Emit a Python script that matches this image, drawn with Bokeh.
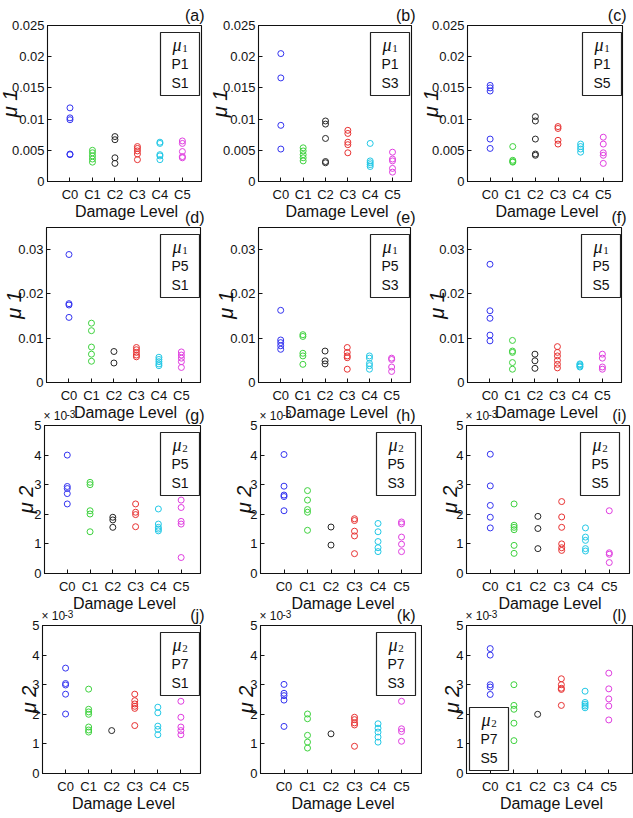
import math

from bokeh.core.properties import value
from bokeh.embed import file_html
from bokeh.layouts import column, row
from bokeh.models import BoxAnnotation, ColumnDataSource, FixedTicker, Label
from bokeh.plotting import figure
from bokeh.resources import INLINE

# ---------------------------------------------------------------------------
# Data: damage index values per damage level (C0..C5) for each path/sensor.
# mu1 values are absolute; mu2 values are given in units of 1e-3.
# ---------------------------------------------------------------------------
damage_levels = ["C0", "C1", "C2", "C3", "C4", "C5"]
level_colors = ["#3434f0", "#3ed23e", "#262626", "#e83232", "#22c8e6", "#e03ee0"]

mu1_P1_S1 = [
    [0.0118, 0.0102, 0.0099, 0.0044, 0.0043],
    [0.0050, 0.0046, 0.0041, 0.0036, 0.0031],
    [0.0072, 0.0067, 0.0038, 0.0029],
    [0.0056, 0.0053, 0.0049, 0.0044, 0.0035],
    [0.0063, 0.0061, 0.0043, 0.0041, 0.0035],
    [0.0065, 0.0061, 0.0048, 0.0040, 0.0038],
]
mu1_P1_S3 = [
    [0.0205, 0.0166, 0.0090, 0.0052],
    [0.0054, 0.0049, 0.0043, 0.0038, 0.0033],
    [0.0097, 0.0092, 0.0069, 0.0032, 0.0030],
    [0.0082, 0.0077, 0.0063, 0.0059, 0.0046],
    [0.0061, 0.0033, 0.0030, 0.0027, 0.0024],
    [0.0047, 0.0036, 0.0033, 0.0021, 0.0015],
]
mu1_P1_S5 = [
    [0.0154, 0.0150, 0.0145, 0.0068, 0.0053],
    [0.0056, 0.0034, 0.0032, 0.0031],
    [0.0104, 0.0097, 0.0068, 0.0044, 0.0042],
    [0.0088, 0.0085, 0.0066, 0.0060],
    [0.0060, 0.0056, 0.0052, 0.0047],
    [0.0071, 0.0060, 0.0046, 0.0042, 0.0029],
]
mu1_P5_S1 = [
    [0.0289, 0.0178, 0.0175, 0.0147],
    [0.0134, 0.0117, 0.0080, 0.0064, 0.0048],
    [0.0070, 0.0044],
    [0.0079, 0.0074, 0.0068, 0.0062, 0.0058],
    [0.0057, 0.0052, 0.0047, 0.0042, 0.0038],
    [0.0069, 0.0062, 0.0055, 0.0047, 0.0034],
]
mu1_P5_S3 = [
    [0.0163, 0.0096, 0.0090, 0.0083, 0.0075],
    [0.0108, 0.0104, 0.0066, 0.0060, 0.0041],
    [0.0071, 0.0049, 0.0042],
    [0.0079, 0.0068, 0.0060, 0.0056, 0.0030],
    [0.0060, 0.0055, 0.0043, 0.0038, 0.0030],
    [0.0055, 0.0052, 0.0035, 0.0025],
]
mu1_P5_S5 = [
    [0.0267, 0.0162, 0.0145, 0.0107, 0.0094],
    [0.0095, 0.0071, 0.0068, 0.0045, 0.0030],
    [0.0064, 0.0049, 0.0032],
    [0.0081, 0.0068, 0.0060, 0.0050, 0.0041, 0.0033],
    [0.0042, 0.0040, 0.0037, 0.0035],
    [0.0064, 0.0055, 0.0035, 0.0030],
]
mu2_P5_S1 = [
    [4.00, 2.94, 2.87, 2.70, 2.35],
    [3.08, 3.00, 2.12, 2.01, 1.41],
    [1.90, 1.81, 1.56],
    [2.35, 2.07, 1.99, 1.58],
    [2.18, 1.67, 1.56, 1.50, 1.44],
    [2.48, 2.23, 1.76, 1.67, 0.54],
]
mu2_P5_S3 = [
    [4.02, 2.95, 2.65, 2.60, 2.12],
    [2.80, 2.48, 2.16, 2.07, 1.46],
    [1.57, 0.96],
    [1.85, 1.79, 1.43, 1.27, 0.67],
    [1.69, 1.41, 1.08, 0.87, 0.74],
    [1.74, 1.68, 1.23, 0.99, 0.74],
]
mu2_P5_S5 = [
    [4.03, 2.96, 2.30, 1.90, 1.54],
    [2.35, 1.63, 1.56, 1.48, 0.95, 0.68],
    [1.93, 1.52, 0.84],
    [2.43, 1.91, 1.56, 1.00, 0.87, 0.78],
    [1.54, 1.23, 1.12, 0.84, 0.76],
    [2.12, 0.70, 0.65, 0.37],
]
mu2_P7_S1 = [
    [3.56, 3.04, 2.99, 2.68, 2.01],
    [2.85, 2.17, 2.08, 2.00, 1.57, 1.47, 1.40],
    [1.45],
    [2.68, 2.46, 2.35, 2.27, 2.20, 1.62],
    [2.24, 2.05, 1.60, 1.49, 1.31],
    [2.44, 1.90, 1.57, 1.45, 1.31],
]
mu2_P7_S3 = [
    [3.01, 2.71, 2.63, 2.48, 1.59],
    [2.01, 1.85, 1.29, 1.06, 0.86],
    [1.34],
    [1.90, 1.82, 1.71, 1.64, 0.92],
    [1.68, 1.53, 1.40, 1.23, 1.06],
    [2.44, 1.51, 1.42, 1.09],
]
mu2_P7_S5 = [
    [4.22, 4.00, 3.00, 2.92, 2.67],
    [3.00, 2.30, 2.17, 1.70, 1.11],
    [2.00],
    [3.20, 3.00, 2.88, 2.84, 2.30],
    [2.78, 2.40, 2.34, 2.28, 2.22],
    [3.39, 2.86, 2.52, 2.28, 1.81],
]

# y-axis definitions per row of panels
mu1_short_ticks = [0, 0.005, 0.01, 0.015, 0.02, 0.025]
mu1_short_labels = ["0", "0.005", "0.01", "0.015", "0.02", "0.025"]
mu1_tall_ticks = [0, 0.01, 0.02, 0.03]
mu1_tall_labels = ["0", "0.01", "0.02", "0.03"]
mu2_ticks = [0, 1, 2, 3, 4, 5]
mu2_labels = ["0", "1", "2", "3", "4", "5"]

ROW_AXES = [
    dict(ymax=0.025, ticks=mu1_short_ticks, labels=mu1_short_labels, index="1", exponent=False),
    dict(ymax=0.035, ticks=mu1_tall_ticks, labels=mu1_tall_labels, index="1", exponent=False),
    dict(ymax=5.0, ticks=mu2_ticks, labels=mu2_labels, index="2", exponent=True),
    dict(ymax=5.0, ticks=mu2_ticks, labels=mu2_labels, index="2", exponent=True),
]

# (figure height, top border, bottom border, overlap with the row above)
ROW_GEOM = [
    (222, 25, 41, 0),
    (217, 22, 40, 17),
    (209, 22, 39, 19),
    (215, 22, 45, 9),
]

FIG_W = 211
PAGE_W = 3 * FIG_W
PAGE_H = sum(g[0] - g[3] for g in ROW_GEOM)

PANELS = [
    dict(tag="(a)", data=mu1_P1_S1, path="P1", sensor="S1", left=47, right=10, ylab_dx=-38, box_dx=2),
    dict(tag="(b)", data=mu1_P1_S3, path="P1", sensor="S3", left=47, right=11, ylab_dx=-39, box_dx=2),
    dict(tag="(c)", data=mu1_P1_S5, path="P1", sensor="S5", left=45, right=11, ylab_dx=-37, box_dx=1),
    dict(tag="(d)", data=mu1_P5_S1, path="P5", sensor="S1", left=46, right=11, ylab_dx=-33, box_dx=1),
    dict(tag="(e)", data=mu1_P5_S3, path="P5", sensor="S3", left=47, right=12, ylab_dx=-33, box_dx=1),
    dict(tag="(f)", data=mu1_P5_S5, path="P5", sensor="S5", left=45, right=12, ylab_dx=-31, box_dx=1),
    dict(tag="(g)", data=mu2_P5_S1, path="P5", sensor="S1", left=44, right=11, ylab_dx=-19, box_dx=1),
    dict(tag="(h)", data=mu2_P5_S3, path="P5", sensor="S3", left=49, right=1, ylab_dx=-17, box_dx=6),
    dict(tag="(i)", data=mu2_P5_S5, path="P5", sensor="S5", left=44, right=4, ylab_dx=-17, box_dx=10),
    dict(tag="(j)", data=mu2_P7_S1, path="P7", sensor="S1", left=42, right=11, ylab_dx=-14, box_dx=1),
    dict(tag="(k)", data=mu2_P7_S3, path="P7", sensor="S3", left=49, right=1, ylab_dx=-15, box_dx=6),
    dict(tag="(l)", data=mu2_P7_S5, path="P7", sensor="S5", left=44, right=1, ylab_dx=-15, box_dx=3,
         box_corner="bottom_left", xmax=7.0),
]

FONT = "Liberation Sans"
SERIF = "Liberation Serif"
INK = "#111111"


def add_text(p, x, y, text, size, font=FONT, align="center", baseline="middle", style="normal"):
    p.add_layout(Label(x=x, y=y, x_units="screen", y_units="screen", text=text,
                       text_font=font, text_font_size=size, text_font_style=style,
                       text_align=align, text_baseline=baseline, text_color=INK))


def build_panel(spec, geom, axis):
    height, top, bottom, _ = geom
    left, right = spec["left"], spec["right"]
    fw = FIG_W - left - right
    fh = height - top - bottom

    p = figure(width=FIG_W, height=height,
               x_range=(0, spec.get("xmax", 6.85)), y_range=(0, axis["ymax"]),
               output_backend="svg", toolbar_location=None,
               min_border_left=left, min_border_right=right,
               min_border_top=top, min_border_bottom=bottom)
    p.border_fill_color = None
    p.background_fill_color = "white"
    p.outline_line_color = INK
    p.outline_line_width = 1.1
    p.xgrid.visible = False
    p.ygrid.visible = False

    # one column of open circles per damage level
    for i, (vals, col) in enumerate(zip(spec["data"], level_colors)):
        p.scatter(x=[i + 1] * len(vals), y=vals, marker="circle", size=6,
                  fill_color=None, line_color=col, line_width=1)

    for ax in (p.xaxis[0], p.yaxis[0]):
        ax.axis_line_color = INK
        ax.major_tick_line_color = INK
        ax.major_tick_in = 4
        ax.major_tick_out = 0
        ax.minor_tick_line_color = None
        ax.major_label_text_font = FONT
        ax.major_label_text_color = INK

    p.xaxis.ticker = FixedTicker(ticks=list(range(1, len(damage_levels) + 1)))
    p.xaxis.major_label_overrides = {i + 1: lab for i, lab in enumerate(damage_levels)}
    p.xaxis.major_label_text_font_size = "13px"
    p.xaxis.major_label_standoff = 5

    p.yaxis.ticker = FixedTicker(ticks=axis["ticks"])
    p.yaxis.major_label_overrides = dict(zip(axis["ticks"], axis["labels"]))
    p.yaxis.major_label_text_font_size = "13px"
    p.yaxis.major_label_standoff = 3

    # boxed legend inside the frame: quantity, path, sensor
    bw, bh = 39, 63
    if spec.get("box_corner") == "bottom_left":
        bl = spec["box_dx"]
        bb = 3
    else:
        bl = fw - spec["box_dx"] - bw
        bb = fh - 7 - bh
    br, bt = bl + bw, bb + bh
    p.add_layout(BoxAnnotation(left=bl, right=br, bottom=bb, top=bt,
                               left_units="screen", right_units="screen",
                               bottom_units="screen", top_units="screen",
                               fill_color="white", fill_alpha=1.0,
                               line_color="#222222", line_width=1.2, line_alpha=1.0))
    cx = (bl + br) / 2
    add_text(p, cx - 3, bt - 12, "μ", "18px", font=SERIF, style="italic")
    add_text(p, cx + 5, bt - 16, axis["index"], "11px", font=SERIF)
    add_text(p, cx, bt - 31, spec["path"], "14px")
    add_text(p, cx, bt - 50, spec["sensor"], "14px")
    return p


# ---------------------------------------------------------------------------
# Panels, row by row; rows overlap slightly so that titles can share lines
# ---------------------------------------------------------------------------
rows = []
frames = []  # page-space frame boxes (left, top, right, bottom, column x0)
row_y0 = 0
for r in range(4):
    height, top, bottom, overlap = ROW_GEOM[r]
    row_y0 -= overlap
    figs = []
    for c in range(3):
        spec = PANELS[3 * r + c]
        figs.append(build_panel(spec, ROW_GEOM[r], ROW_AXES[r]))
        x0 = c * FIG_W
        frames.append((x0 + spec["left"], row_y0 + top,
                       x0 + FIG_W - spec["right"], row_y0 + height - bottom, x0))
    rows.append(row(*figs, margin=(-overlap, 0, 0, 0)))
    row_y0 += height

# ---------------------------------------------------------------------------
# Transparent text layer over the whole grid: axis titles, panel tags and the
# x10^-3 exponent markers, which sit outside the plotting frames.
# ---------------------------------------------------------------------------
xlab = dict(x=[], y=[], text=[])
ylab = dict(x=[], y=[], text=[])
tags = dict(x=[], y=[], text=[])
exp_base = dict(x=[], y=[], text=[])
exp_pow = dict(x=[], y=[], text=[])
for k, (fl, ft, fr, fb, x0) in enumerate(frames):
    spec = PANELS[k]
    axis = ROW_AXES[k // 3]
    xlab["x"].append((fl + fr) / 2 + 2)
    xlab["y"].append(fb + 30)
    xlab["text"].append("Damage Level")
    ylab["x"].append(fl + spec["ylab_dx"])
    ylab["y"].append((ft + fb) / 2)
    ylab["text"].append("μ " + axis["index"])
    tags["x"].append(x0 + 204)
    tags["y"].append(ft - 10)
    tags["text"].append(spec["tag"])
    if axis["exponent"]:
        exp_base["x"].append(fl - 1)
        exp_base["y"].append(ft - 3)
        exp_base["text"].append("× 10")
        exp_pow["x"].append(fl + 22)
        exp_pow["y"].append(ft - 8)
        exp_pow["text"].append("-3")

overlay = figure(width=PAGE_W, height=PAGE_H, x_range=(0, PAGE_W), y_range=(PAGE_H, 0),
                 x_axis_location=None, y_axis_location=None,
                 output_backend="svg", toolbar_location=None, min_border=0,
                 margin=(-PAGE_H, 0, 0, 0))
overlay.background_fill_color = None
overlay.border_fill_color = None
overlay.outline_line_color = None
overlay.xgrid.visible = False
overlay.ygrid.visible = False

overlay.text(x="x", y="y", text="text", source=ColumnDataSource(xlab),
             text_font=value(FONT), text_font_size="16px", text_color=INK,
             text_align="center", text_baseline="middle")
overlay.text(x="x", y="y", text="text", source=ColumnDataSource(ylab),
             text_font=value(FONT), text_font_size="20px", text_font_style="italic",
             text_color=INK, text_align="center", text_baseline="middle", angle=math.pi / 2)
overlay.text(x="x", y="y", text="text", source=ColumnDataSource(tags),
             text_font=value(FONT), text_font_size="16px", text_color=INK,
             text_align="right", text_baseline="middle")
overlay.text(x="x", y="y", text="text", source=ColumnDataSource(exp_base),
             text_font=value(FONT), text_font_size="12px", text_color=INK,
             text_align="left", text_baseline="bottom")
overlay.text(x="x", y="y", text="text", source=ColumnDataSource(exp_pow),
             text_font=value(FONT), text_font_size="10px", text_color=INK,
             text_align="left", text_baseline="bottom")

layout = column(*rows, overlay)

open("out.html", "w").write(file_html(layout, INLINE, title="Damage index by damage level"))
